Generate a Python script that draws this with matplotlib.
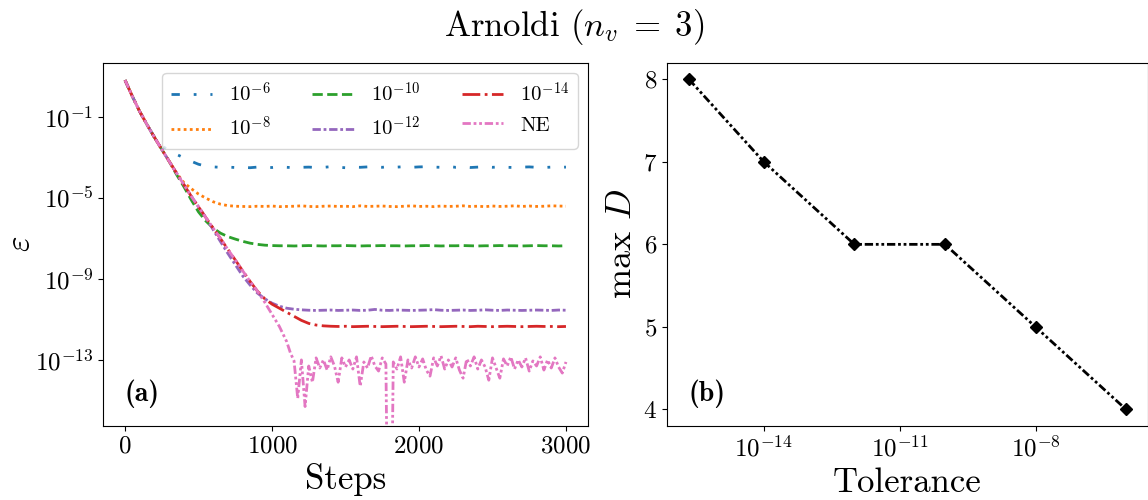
import numpy as np
import matplotlib
matplotlib.use("Agg")
import matplotlib.pyplot as plt
from matplotlib.ticker import NullLocator

plt.rcParams['font.family'] = ['cmr10']
plt.rcParams['mathtext.fontset'] = 'cm'
plt.rcParams['axes.formatter.use_mathtext'] = True

# ---- data (log10 of the error) ----
steps = np.arange(0, 3001, 50)

log_err_1e6 = [0.80, 0.0, -0.75, -1.4, -2.02, -2.45, -2.66, -2.86, -3.03, -3.2,
               -3.35, -3.44, -3.48, -3.5, -3.49, -3.51, -3.5, -3.52, -3.49, -3.5,
               -3.51, -3.48, -3.5, -3.52, -3.5, -3.49, -3.51, -3.5, -3.47, -3.5,
               -3.52, -3.49, -3.5, -3.48, -3.47, -3.5, -3.46, -3.49, -3.47, -3.5,
               -3.48, -3.47, -3.49, -3.5, -3.46, -3.5, -3.48, -3.51, -3.49, -3.47,
               -3.5, -3.48, -3.5, -3.51, -3.49, -3.48, -3.5, -3.51, -3.49, -3.5,
               -3.49]
log_err_1e8 = [0.80, 0.0, -0.75, -1.4, -2.02, -2.62, -3.2, -3.78, -4.25, -4.55,
               -4.82, -5.02, -5.2, -5.32, -5.39, -5.42, -5.43, -5.44, -5.42, -5.43,
               -5.41, -5.44, -5.43, -5.42, -5.40, -5.43, -5.44, -5.42, -5.41, -5.43,
               -5.42, -5.44, -5.40, -5.43, -5.42, -5.41, -5.43, -5.44, -5.42, -5.40,
               -5.43, -5.42, -5.44, -5.41, -5.43, -5.42, -5.40, -5.43, -5.42, -5.44,
               -5.41, -5.43, -5.42, -5.40, -5.43, -5.41, -5.43, -5.42, -5.40, -5.41,
               -5.42]
log_err_1e10 = [0.80, 0.0, -0.75, -1.4, -2.02, -2.62, -3.2, -3.85, -4.45, -5.1,
                -5.7, -6.15, -6.5, -6.75, -6.92, -7.04, -7.15, -7.24, -7.3, -7.34,
                -7.36, -7.37, -7.37, -7.38, -7.37, -7.36, -7.37, -7.38, -7.37, -7.37,
                -7.36, -7.37, -7.38, -7.37, -7.37, -7.36, -7.37, -7.37, -7.38, -7.37,
                -7.37, -7.36, -7.37, -7.38, -7.37, -7.37, -7.36, -7.37, -7.38, -7.37,
                -7.37, -7.36, -7.37, -7.37, -7.38, -7.37, -7.36, -7.37, -7.37, -7.38,
                -7.37]
log_err_1e12 = [0.80, 0.0, -0.75, -1.4, -2.02, -2.62, -3.2, -3.78, -4.35, -4.92,
                -5.45, -5.98, -6.58, -7.17, -7.75, -8.3, -8.85, -9.3, -9.7, -9.98,
                -10.2, -10.35, -10.45, -10.5, -10.53, -10.55, -10.56, -10.55, -10.54, -10.56,
                -10.55, -10.54, -10.56, -10.55, -10.51, -10.55, -10.56, -10.54, -10.55, -10.56,
                -10.55, -10.54, -10.52, -10.55, -10.56, -10.55, -10.54, -10.56, -10.55, -10.53,
                -10.55, -10.56, -10.54, -10.55, -10.56, -10.55, -10.54, -10.55, -10.56, -10.54,
                -10.55]
log_err_1e14 = [0.80, 0.0, -0.75, -1.4, -2.02, -2.62, -3.2, -3.78, -4.35, -4.92,
                -5.45, -5.98, -6.5, -7.02, -7.55, -8.07, -8.6, -9.12, -9.6, -9.98,
                -10.25, -10.45, -10.65, -10.85, -11.05, -11.2, -11.28, -11.32, -11.34, -11.35,
                -11.34, -11.36, -11.35, -11.34, -11.35, -11.36, -11.35, -11.34, -11.35, -11.36,
                -11.35, -11.34, -11.35, -11.36, -11.35, -11.34, -11.35, -11.36, -11.34, -11.35,
                -11.36, -11.35, -11.34, -11.35, -11.36, -11.35, -11.34, -11.35, -11.35, -11.36,
                -11.35]

# no truncation: finer sampling on the noisy floor (-30 stands for an exact zero)
steps_ne = np.concatenate([np.arange(0, 1101, 50), np.arange(1125, 3001, 25)])
log_err_ne = [0.80, 0.0, -0.75, -1.4, -2.02, -2.62, -3.2, -3.78, -4.35, -4.92,
              -5.45, -5.98, -6.5, -7.02, -7.55, -8.07, -8.6, -9.12, -9.6, -10.15,
              -10.75, -11.35, -12.1,
              -12.65, -13.05, -14.9, -13.0, -15.3, -13.3, -14.1, -12.9, -13.4, -13.0,
              -13.5, -12.85, -13.3, -14.1, -12.9, -13.35, -13.0, -13.45, -12.85, -14.3,
              -13.1, -13.4, -12.8, -13.3, -13.55, -12.9, -13.2, -30.0, -13.1, -13.45,
              -12.85, -14.1, -13.0, -13.4, -12.85, -13.35, -12.95, -13.5, -13.8, -12.9,
              -13.3, -12.8, -13.45, -13.0, -13.35, -12.9, -13.5, -13.9, -12.95, -13.3,
              -12.85, -13.45, -13.0, -13.35, -14.0, -12.9, -13.4, -13.9, -12.95, -13.3,
              -12.85, -13.45, -13.0, -13.35, -12.9, -13.55, -13.05, -13.3, -12.85, -13.5,
              -13.0, -13.4, -12.9, -13.35, -13.65, -13.1]

series_labels = [r'$10^{-6}$', r'$10^{-8}$', r'$10^{-10}$', r'$10^{-12}$', r'$10^{-14}$', 'NE']

tolerances = [2.22e-16, 1e-14, 1e-12, 1e-10, 1e-8, 1e-6]
max_bond = [8, 7, 6, 6, 5, 4]

# ---- figure ----
fig = plt.figure(figsize=(11.48, 5), dpi=100)
ax1 = fig.add_axes([0.0897, 0.148, 0.4225, 0.7266])
ax2 = fig.add_axes([0.581, 0.148, 0.419, 0.7266])

styles = [
    ('tab:blue', (0, (3, 5, 1, 5, 1, 5))),
    ('tab:orange', (0, (1, 1.2))),
    ('tab:green', '--'),
    ('tab:purple', (0, (3, 1, 1, 1))),
    ('tab:red', '-.'),
    ('tab:pink', (0, (3, 1, 1, 1, 1, 1))),
]
curves = [log_err_1e6, log_err_1e8, log_err_1e10, log_err_1e12, log_err_1e14]
for vals, lab, (c, ls) in zip(curves, series_labels[:5], styles[:5]):
    ax1.plot(steps, 10.0 ** np.array(vals), color=c, ls=ls, lw=2, label=lab)
ax1.plot(steps_ne, 10.0 ** np.array(log_err_ne), color=styles[5][0], ls=styles[5][1],
         lw=2, label=series_labels[5])

ax1.set_yscale('log')
ax1.set_ylim(10 ** -16.26, 10 ** 1.66)
ax1.set_yticks([1e-1, 1e-5, 1e-9, 1e-13])
ax1.yaxis.set_minor_locator(NullLocator())
ax1.set_xticks([0, 1000, 2000, 3000])
ax1.tick_params(labelsize=18)
ax1.set_xlabel('Steps', fontsize=25)
ax1.set_ylabel(r'$\varepsilon$', fontsize=24, labelpad=0)
ax1.legend(ncol=3, loc='upper right', fontsize=15)
ax1.text(0.045, 0.05, '(a)', family='cmb10', transform=ax1.transAxes, fontsize=20,
         ha='left', va='bottom')

ax2.plot(tolerances, max_bond, color='k', ls=(0, (3, 1, 1, 1, 1, 1)), lw=2,
         marker='D', ms=6.5)
ax2.set_xscale('log')
ax2.set_xticks([1e-14, 1e-11, 1e-8])
ax2.xaxis.set_minor_locator(NullLocator())
ax2.set_yticks([4, 5, 6, 7, 8])
ax2.tick_params(labelsize=18)
ax2.set_xlabel('Tolerance', fontsize=25)
ax2.set_ylabel(r'max $D$', fontsize=26)
ax2.text(0.045, 0.05, '(b)', family='cmb10', transform=ax2.transAxes, fontsize=20,
         ha='left', va='bottom')

fig.text(0.5, 0.946, r'Arnoldi ($n_v \;=\; 3$)', ha='center', va='center', fontsize=25)

fig.savefig('out.png', dpi=100)
